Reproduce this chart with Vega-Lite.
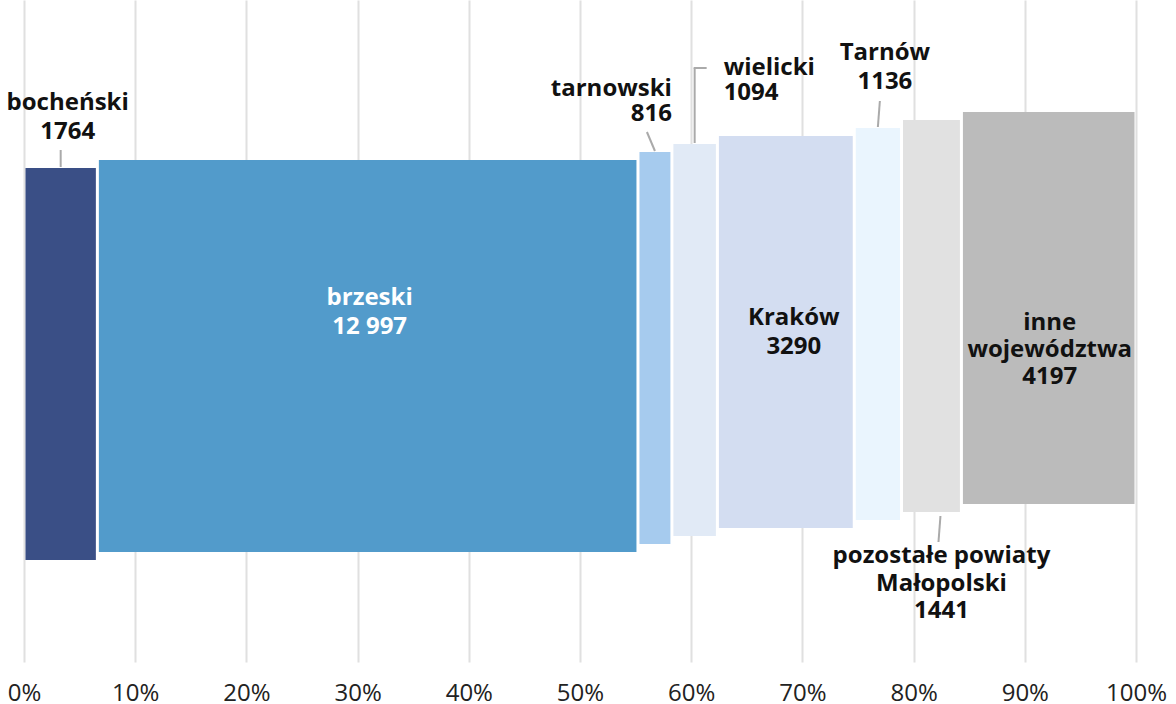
{
  "$schema": "https://vega.github.io/schema/vega-lite/v6.json",
  "width": 1112,
  "height": 662,
  "autosize": "none",
  "padding": {"left": 24, "top": 0, "right": 40, "bottom": 42},
  "background": "white",
  "config": {"view": {"stroke": null}, "font": "Open Sans"},
  "data": {
    "values": [
      {"name": "bocheński", "value": 1764, "label": "bocheński\n1764"},
      {"name": "brzeski", "value": 12997, "label": "brzeski\n12 997"},
      {"name": "tarnowski", "value": 816, "label": "tarnowski\n816"},
      {"name": "wielicki", "value": 1094, "label": "wielicki\n1094"},
      {"name": "Kraków", "value": 3290, "label": "Kraków\n3290"},
      {"name": "Tarnów", "value": 1136, "label": "Tarnów\n1136"},
      {"name": "pozostałe powiaty Małopolski", "value": 1441, "label": "pozostałe powiaty\nMałopolski\n1441"},
      {"name": "inne województwa", "value": 4197, "label": "inne\nwojewództwa\n4197"}
    ]
  },
  "transform": [
    {"window": [{"op": "sum", "field": "value", "as": "cum"}, {"op": "row_number", "as": "rank"}], "frame": [null, 0]},
    {"joinaggregate": [{"op": "sum", "field": "value", "as": "total"}]},
    {"calculate": "(datum.cum - datum.value) / datum.total", "as": "x0"},
    {"calculate": "datum.cum / datum.total", "as": "x1"},
    {"calculate": "(datum.x0 + datum.x1) / 2", "as": "xm"},
    {"calculate": "22 - datum.rank", "as": "top"},
    {"calculate": "71 - datum.rank", "as": "bottom"}
  ],
  "layer": [
    {
      "mark": {"type": "bar", "xOffset": 1.5, "x2Offset": -1.5},
      "encoding": {
        "x": {
          "field": "x0", "type": "quantitative",
          "scale": {"domain": [0, 1], "nice": false, "zero": false},
          "axis": {
            "orient": "bottom", "title": null,
            "values": [0, 0.1, 0.2, 0.3, 0.4, 0.5, 0.6, 0.7, 0.8, 0.9, 1],
            "format": ".0%", "grid": true, "gridColor": "#e0e0e0", "gridWidth": 2,
            "domain": false, "ticks": false, "tickSize": 0, "labelPadding": 19,
            "labelFontSize": 24, "labelColor": "#222222", "labelFont": "Open Sans",
            "labelFlush": false, "labelOverlap": false
          }
        },
        "x2": {"field": "x1"},
        "y": {
          "field": "top", "type": "quantitative",
          "scale": {"domain": [0, 82.75], "reverse": true, "nice": false, "zero": false},
          "axis": null
        },
        "y2": {"field": "bottom"},
        "color": {
          "field": "name", "type": "nominal", "legend": null,
          "scale": {
            "domain": ["bocheński", "brzeski", "tarnowski", "wielicki", "Kraków", "Tarnów", "pozostałe powiaty Małopolski", "inne województwa"],
            "range": ["#3a4f86", "#529bcb", "#a6cbee", "#e1eaf6", "#d3ddf1", "#eaf5fe", "#e1e1e1", "#bbbbbb"]
          }
        }
      }
    },
    {
      "transform": [{"filter": "datum.name === 'bocheński'"}],
      "mark": {"type": "rule", "color": "#aaaaaa", "strokeWidth": 2, "yOffset": -18, "y2Offset": -1},
      "encoding": {"x": {"field": "xm", "type": "quantitative"}, "x2": {"field": "xm"}, "y": {"field": "top", "type": "quantitative"}, "y2": {"field": "top"}}
    },
    {
      "transform": [{"filter": "datum.name === 'tarnowski'"}],
      "mark": {"type": "rule", "color": "#aaaaaa", "strokeWidth": 2, "xOffset": -8, "yOffset": -20, "y2Offset": -1},
      "encoding": {"x": {"field": "xm", "type": "quantitative"}, "x2": {"field": "xm"}, "y": {"field": "top", "type": "quantitative"}, "y2": {"field": "top"}}
    },
    {
      "transform": [{"filter": "datum.name === 'wielicki'"}],
      "mark": {"type": "rule", "color": "#aaaaaa", "strokeWidth": 2, "yOffset": -76, "y2Offset": -1},
      "encoding": {"x": {"field": "xm", "type": "quantitative"}, "x2": {"field": "xm"}, "y": {"field": "top", "type": "quantitative"}, "y2": {"field": "top"}}
    },
    {
      "transform": [{"filter": "datum.name === 'wielicki'"}],
      "mark": {"type": "rule", "color": "#aaaaaa", "strokeWidth": 2, "xOffset": -1, "x2Offset": 12, "yOffset": -76, "y2Offset": -76},
      "encoding": {"x": {"field": "xm", "type": "quantitative"}, "x2": {"field": "xm"}, "y": {"field": "top", "type": "quantitative"}, "y2": {"field": "top"}}
    },
    {
      "transform": [{"filter": "datum.name === 'Tarnów'"}],
      "mark": {"type": "rule", "color": "#aaaaaa", "strokeWidth": 2, "xOffset": 2, "yOffset": -27, "y2Offset": -1},
      "encoding": {"x": {"field": "xm", "type": "quantitative"}, "x2": {"field": "xm"}, "y": {"field": "top", "type": "quantitative"}, "y2": {"field": "top"}}
    },
    {
      "transform": [{"filter": "datum.name === 'pozostałe powiaty Małopolski'"}],
      "mark": {"type": "rule", "color": "#aaaaaa", "strokeWidth": 2, "xOffset": 9, "x2Offset": 7, "yOffset": 4, "y2Offset": 30},
      "encoding": {"x": {"field": "xm", "type": "quantitative"}, "x2": {"field": "xm"}, "y": {"field": "bottom", "type": "quantitative"}, "y2": {"field": "bottom"}}
    },
    {
      "transform": [{"filter": "datum.name === 'bocheński'"}],
      "mark": {"type": "text", "align": "center", "baseline": "alphabetic", "dx": 7, "dy": -58, "lineBreak": "\n", "lineHeight": 29, "font": "Open Sans", "fontWeight": "bold", "fontSize": 24, "color": "#111111"},
      "encoding": {"x": {"field": "xm", "type": "quantitative"}, "y": {"field": "top", "type": "quantitative"}, "text": {"field": "label"}}
    },
    {
      "transform": [{"filter": "datum.name === 'brzeski'"}],
      "mark": {"type": "text", "align": "center", "baseline": "alphabetic", "dx": 2, "dy": 145, "lineBreak": "\n", "lineHeight": 29, "font": "Open Sans", "fontWeight": "bold", "fontSize": 24, "color": "#ffffff"},
      "encoding": {"x": {"field": "xm", "type": "quantitative"}, "y": {"field": "top", "type": "quantitative"}, "text": {"field": "label"}}
    },
    {
      "transform": [{"filter": "datum.name === 'tarnowski'"}],
      "mark": {"type": "text", "align": "right", "baseline": "alphabetic", "dx": 17, "dy": -56, "lineBreak": "\n", "lineHeight": 25, "font": "Open Sans", "fontWeight": "bold", "fontSize": 24, "color": "#111111"},
      "encoding": {"x": {"field": "xm", "type": "quantitative"}, "y": {"field": "top", "type": "quantitative"}, "text": {"field": "label"}}
    },
    {
      "transform": [{"filter": "datum.name === 'wielicki'"}],
      "mark": {"type": "text", "align": "left", "baseline": "alphabetic", "dx": 29, "dy": -69, "lineBreak": "\n", "lineHeight": 25, "font": "Open Sans", "fontWeight": "bold", "fontSize": 24, "color": "#111111"},
      "encoding": {"x": {"field": "xm", "type": "quantitative"}, "y": {"field": "top", "type": "quantitative"}, "text": {"field": "label"}}
    },
    {
      "transform": [{"filter": "datum.name === 'Kraków'"}],
      "mark": {"type": "text", "align": "center", "baseline": "alphabetic", "dx": 8, "dy": 189, "lineBreak": "\n", "lineHeight": 29, "font": "Open Sans", "fontWeight": "bold", "fontSize": 24, "color": "#111111"},
      "encoding": {"x": {"field": "xm", "type": "quantitative"}, "y": {"field": "top", "type": "quantitative"}, "text": {"field": "label"}}
    },
    {
      "transform": [{"filter": "datum.name === 'Tarnów'"}],
      "mark": {"type": "text", "align": "center", "baseline": "alphabetic", "dx": 7, "dy": -68, "lineBreak": "\n", "lineHeight": 29, "font": "Open Sans", "fontWeight": "bold", "fontSize": 24, "color": "#111111"},
      "encoding": {"x": {"field": "xm", "type": "quantitative"}, "y": {"field": "top", "type": "quantitative"}, "text": {"field": "label"}}
    },
    {
      "transform": [{"filter": "datum.name === 'pozostałe powiaty Małopolski'"}],
      "mark": {"type": "text", "align": "center", "baseline": "alphabetic", "dx": 10, "dy": 51, "lineBreak": "\n", "lineHeight": 27.5, "font": "Open Sans", "fontWeight": "bold", "fontSize": 24, "color": "#111111"},
      "encoding": {"x": {"field": "xm", "type": "quantitative"}, "y": {"field": "bottom", "type": "quantitative"}, "text": {"field": "label"}}
    },
    {
      "transform": [{"filter": "datum.name === 'inne województwa'"}],
      "mark": {"type": "text", "align": "center", "baseline": "alphabetic", "dx": 1, "dy": 218, "lineBreak": "\n", "lineHeight": 27, "font": "Open Sans", "fontWeight": "bold", "fontSize": 24, "color": "#111111"},
      "encoding": {"x": {"field": "xm", "type": "quantitative"}, "y": {"field": "top", "type": "quantitative"}, "text": {"field": "label"}}
    }
  ]
}
